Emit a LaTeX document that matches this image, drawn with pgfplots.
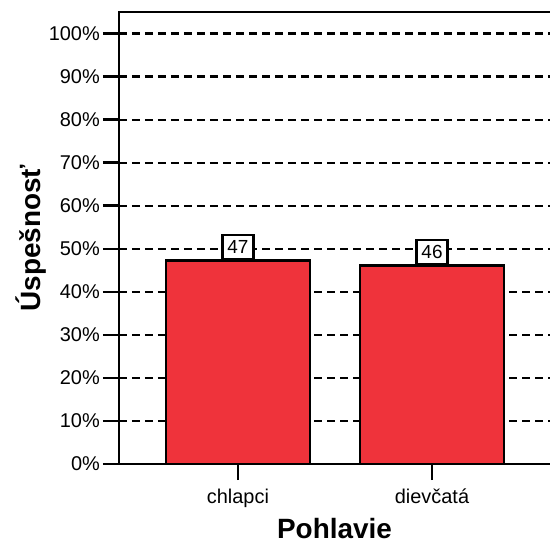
\documentclass[border=0pt]{standalone}
\usepackage{fontspec}
\setmainfont{Liberation Sans}
\usepackage{pgfplots}
\pgfplotsset{compat=1.18}
\usetikzlibrary{calc}
\definecolor{barred}{RGB}{239,51,59}
\begin{document}
\begin{tikzpicture}
\begin{axis}[
  scale only axis, width=431bp, height=452bp,
  xmin=-0.613, xmax=1.608, ymin=0, ymax=105,
  xtick={0,1}, xticklabels={chlapci,dievčatá},
  ytick={0,10,...,100},
  yticklabel={\pgfmathprintnumber{\tick}\%},
  /pgf/number format/assume math mode=true,
  tick align=outside, xtick pos=bottom, ytick pos=left,
  major tick length=16bp,
  tick style={line width=2.5bp, black},
  axis line style={draw=none},
  ymajorgrids, grid style={line width=2.2bp, dash pattern=on 8bp off 5bp, black},
  ticklabel style={font=\fontsize{20}{24}\selectfont},
  yticklabel style={inner xsep=3bp},
  xticklabel style={anchor=base, yshift=-23bp},
  xlabel={Pohlavie}, ylabel={Úspešnosť},
  label style={font=\bfseries\fontsize{28}{32}\selectfont},
  xlabel style={at={(axis description cs:0.5,-0.1659)}, anchor=base},
  ylabel style={at={(axis description cs:-0.2042,0.5)}, anchor=center, rotate=0},
  clip=false,
  nodes near coords={\pgfmathprintnumber[fixed,precision=0]{\pgfplotspointmeta}},
  every node near coord/.append style={draw=black, fill=white, line width=2.2bp,
    font=\fontsize{19}{21}\selectfont, anchor=south, inner xsep=5bp, inner ysep=5.5bp,
    text height=13.5bp, text depth=0pt, yshift=0pt},
]
\addplot[ybar, bar width=144bp, bar shift=0pt, fill=barred, draw=black, line width=2.4bp]
  coordinates {(0,47.3) (1,46.1)};
\draw[line width=2.8bp, black] (rel axis cs:1,1) -- (rel axis cs:0,1) -- (rel axis cs:0,0) -- (rel axis cs:1,0);
\coordinate (ll) at (rel axis cs:0,0);
\coordinate (ur) at (rel axis cs:1,1);
\end{axis}
\pgfresetboundingbox
\path ($(ll)+(-119bp,-77bp)$) rectangle ($(ur)+(0,12bp)$);
\end{tikzpicture}
\end{document}
